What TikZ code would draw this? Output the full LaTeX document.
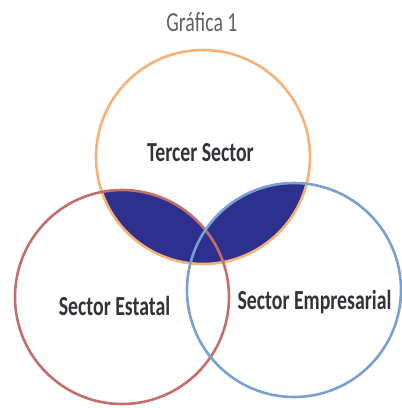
\documentclass[tikz,border=0pt]{standalone}
\usepackage{fontspec}
\setmainfont{Carlito}
\newfontfamily\estrecha[FakeStretch=0.72]{Carlito}
\usetikzlibrary{positioning}
\definecolor{naranja}{RGB}{246,178,118}
\definecolor{rojo}{RGB}{196,110,108}
\definecolor{azul}{RGB}{120,160,208}
\definecolor{relleno}{RGB}{46,48,142}
\definecolor{gristexto}{RGB}{50,50,56}
\definecolor{gristitulo}{RGB}{95,95,105}
\tikzset{
  sector/.style = {circle, draw, line width=2.6pt, minimum size=214pt,
    inner sep=0pt},
  etiqueta/.style = {anchor=base, inner sep=0pt, text=gristexto,
    font=\estrecha\bfseries\fontsize{27.5}{30}\selectfont},
  titulo/.style = {etiqueta, text=gristitulo,
    font=\estrecha\fontsize{27.5}{30}\selectfont},
}
\begin{document}
\begin{tikzpicture}[x=1pt,y=-1pt]
\useasboundingbox (0,0) rectangle (402,408);
\coordinate (ctercer) at (203,157);
\coordinate (cestatal) at (122,297);
\coordinate (cempresa) at (294,290);
% zona sombreada
\begin{scope}
  \clip (ctercer) circle (107pt);
  \fill[relleno] (cestatal) circle (107pt) (cempresa) circle (107pt);
\end{scope}
\node[sector, draw=naranja] (tercer) at (ctercer) {};
\node[sector, draw=rojo] (estatal) at (cestatal) {};
\node[sector, draw=azul] (empresa) at (cempresa) {};
% textos
\node[titulo] (grafica) at (202,31) {Gráfica 1};
\node[etiqueta] (lbltercer) at (200.5,161.7) {Tercer Sector};
\node[etiqueta] (lblestatal) at (114.5,315) {Sector Estatal};
\node[etiqueta] (lblempresa) at (314.5,309.3) {Sector Empresarial};
\end{tikzpicture}
\end{document}
